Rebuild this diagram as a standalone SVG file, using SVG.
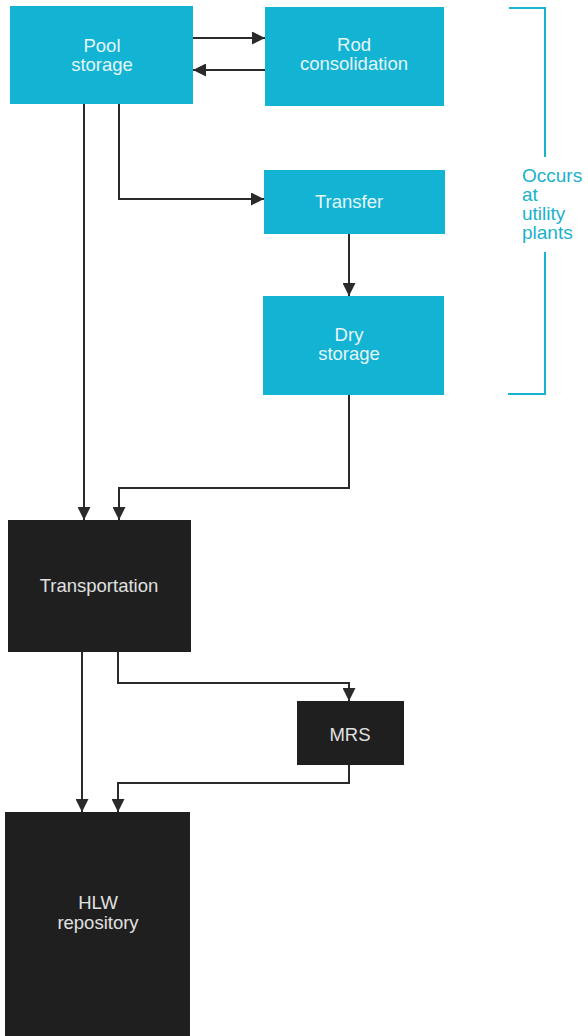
<svg xmlns="http://www.w3.org/2000/svg" width="588" height="1036" viewBox="0 0 588 1036">
<style>
.cy{fill:#12b3d3}
.dk{fill:#1f1f1f}
.t{font-family:"Liberation Sans",Arial,sans-serif;font-size:18.5px;text-anchor:middle}
.tc{fill:#e6f6fa}
.td{fill:#e0e0e0}
.c{fill:none;stroke:#2a2a2a;stroke-width:2}
.br{fill:none;stroke:#1ab2cc;stroke-width:2}
.lab{font-family:"Liberation Sans",Arial,sans-serif;font-size:19px;fill:#1ab2cc}
</style>
<defs>
<marker id="ah" viewBox="0 0 10 10" refX="10" refY="5" markerWidth="6.5" markerHeight="6.5" orient="auto" markerUnits="strokeWidth">
<path d="M0,0 L10,5 L0,10 z" fill="#2a2a2a"/>
</marker>
</defs>
<rect width="588" height="1036" fill="#fff"/>
<g id="pool"><rect class="cy" x="10" y="6" width="183" height="98"/><text class="t tc" x="102" y="52">Pool</text><text class="t tc" x="102" y="71">storage</text></g>
<g id="rod"><rect class="cy" x="265" y="7" width="179" height="99"/><text class="t tc" x="354" y="51">Rod</text><text class="t tc" x="354" y="70">consolidation</text></g>
<g id="transfer"><rect class="cy" x="264" y="170" width="181" height="64"/><text class="t tc" x="349" y="208">Transfer</text></g>
<g id="dry"><rect class="cy" x="263" y="296" width="181" height="99"/><text class="t tc" x="349" y="341">Dry</text><text class="t tc" x="349" y="360">storage</text></g>
<g id="transport"><rect class="dk" x="8" y="520" width="183" height="132"/><text class="t td" x="99" y="592">Transportation</text></g>
<g id="mrs"><rect class="dk" x="297" y="701" width="107" height="64"/><text class="t td" x="350" y="741">MRS</text></g>
<g id="hlw"><rect class="dk" x="5" y="812" width="185" height="224"/><text class="t td" x="98" y="909">HLW</text><text class="t td" x="98" y="929">repository</text></g>
<g id="bracket">
<path class="br" d="M509,8 H545 V157 M545,252 V394 H508"/>
<text class="lab" x="522" y="182">Occurs</text>
<text class="lab" x="522" y="201">at</text>
<text class="lab" x="522" y="220">utility</text>
<text class="lab" x="522" y="239">plants</text>
</g>
<g id="connectors">
<path class="c" d="M193,38 H265" marker-end="url(#ah)"/>
<path class="c" d="M265,70 H193" marker-end="url(#ah)"/>
<path class="c" d="M84,104 V520" marker-end="url(#ah)"/>
<path class="c" d="M119,104 V199 H264" marker-end="url(#ah)"/>
<path class="c" d="M349,234 V296" marker-end="url(#ah)"/>
<path class="c" d="M349,395 V488 H119 V520" marker-end="url(#ah)"/>
<path class="c" d="M82,652 V812" marker-end="url(#ah)"/>
<path class="c" d="M118,652 V683 H349 V701" marker-end="url(#ah)"/>
<path class="c" d="M349,765 V783 H118 V812" marker-end="url(#ah)"/>
</g>
</svg>
